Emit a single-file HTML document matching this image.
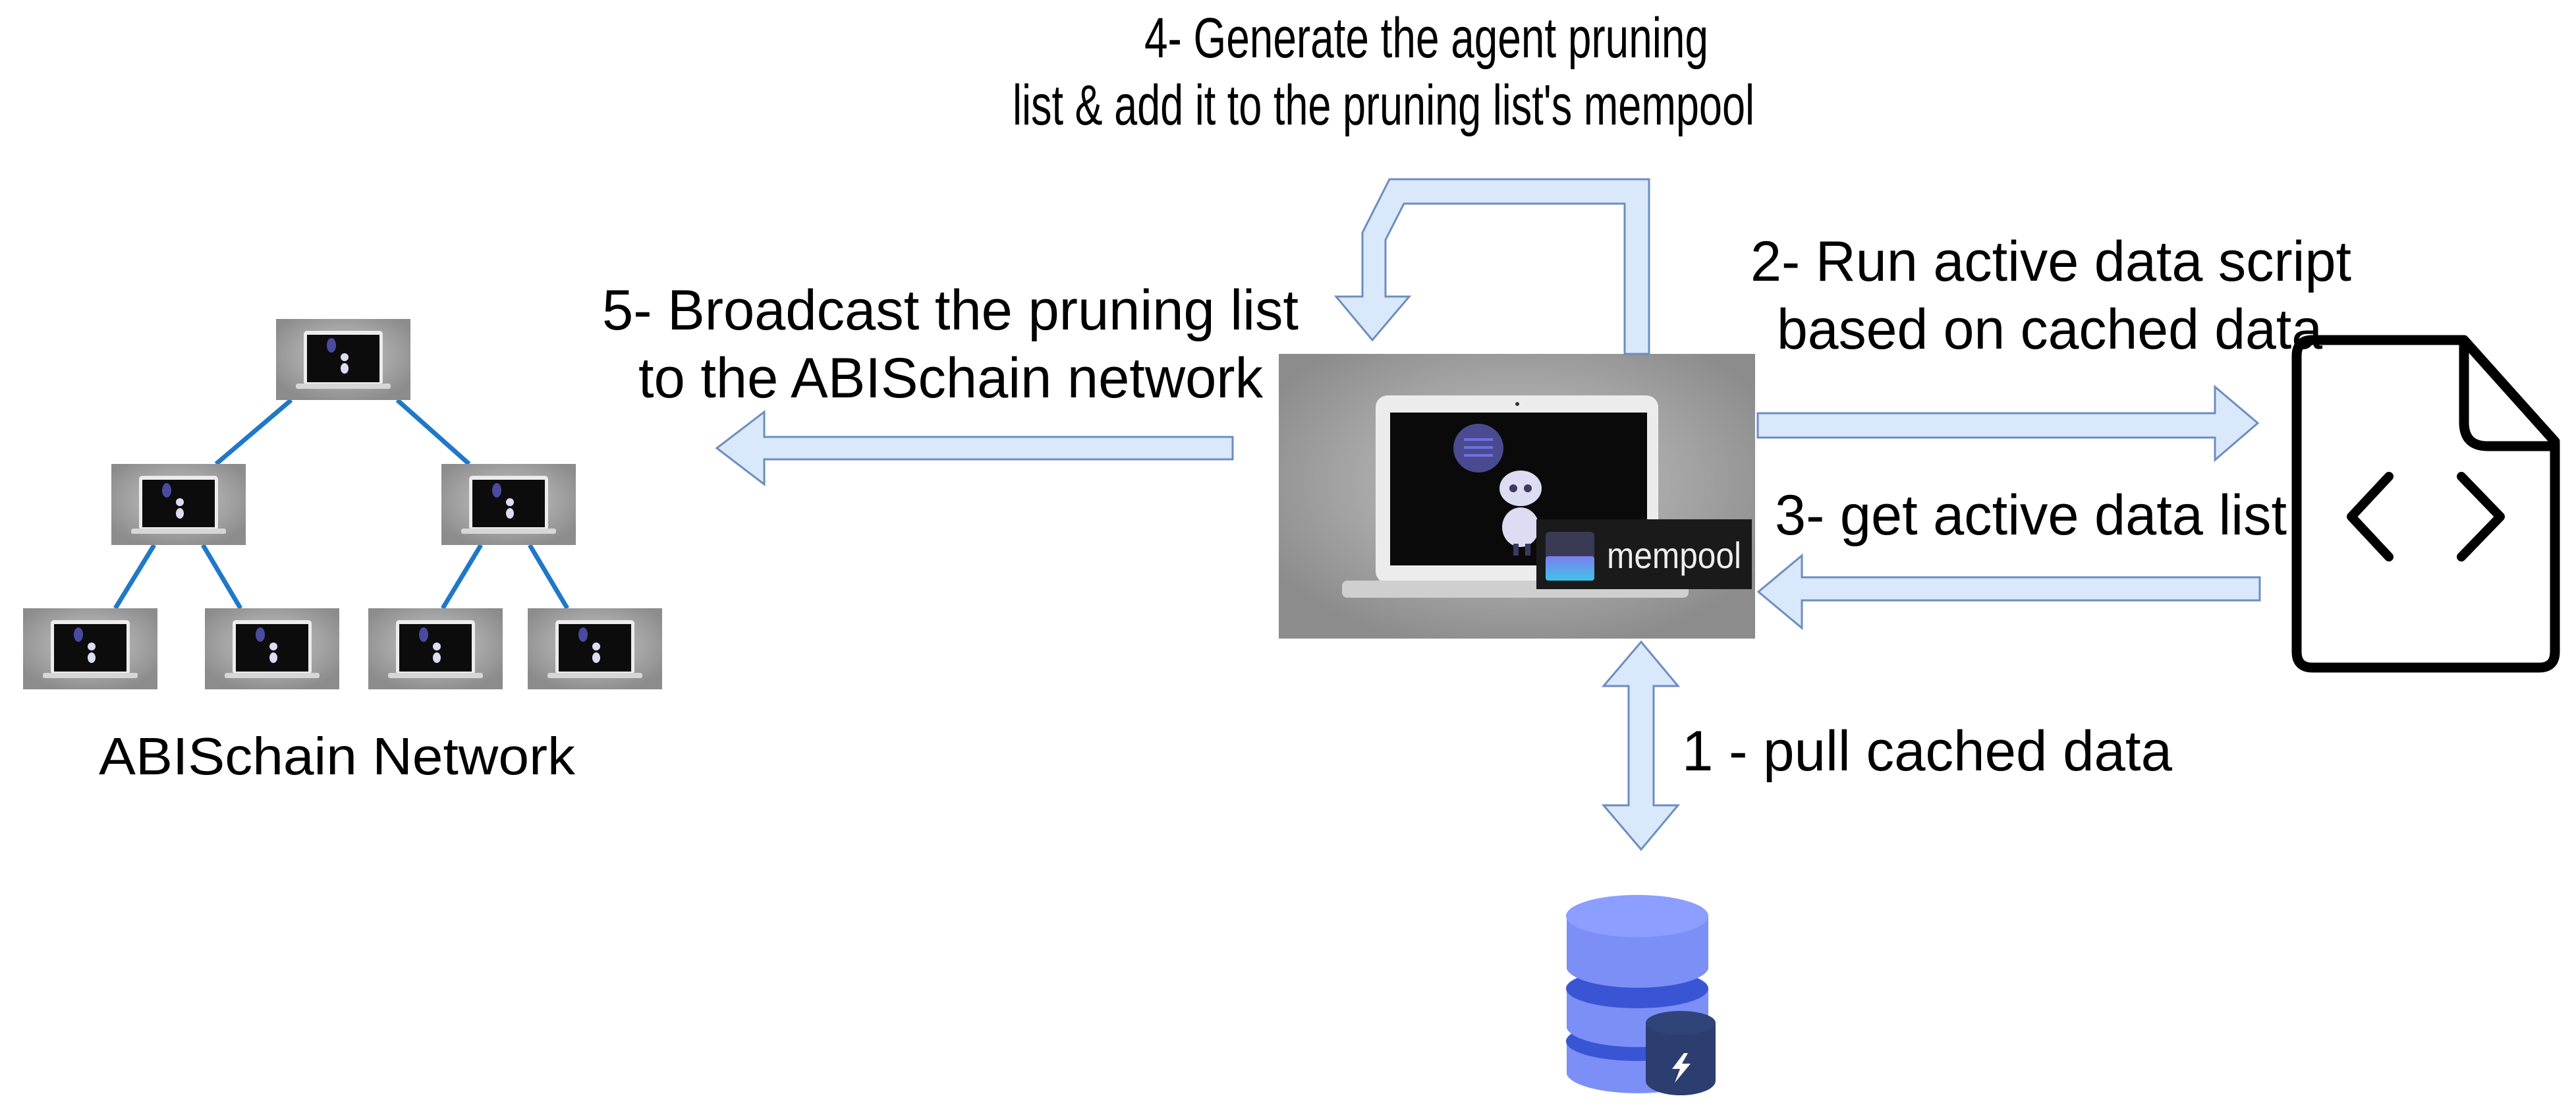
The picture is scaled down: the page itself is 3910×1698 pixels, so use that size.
<!DOCTYPE html>
<html><head><meta charset="utf-8"><style>html,body{margin:0;padding:0;background:#fff}svg{display:block}</style></head>
<body>
<svg width="3910" height="1698" viewBox="0 0 3910 1698" xmlns="http://www.w3.org/2000/svg" font-family="'Liberation Sans', Arial, sans-serif">
<defs>
<radialGradient id="bg" cx="50%" cy="45%" r="60%">
<stop offset="0" stop-color="#c4c4c4"/><stop offset="0.6" stop-color="#a4a4a4"/><stop offset="1" stop-color="#8c8c8c"/>
</radialGradient>
<linearGradient id="mp" x1="0" y1="0" x2="0" y2="1">
<stop offset="0" stop-color="#7d7df0"/><stop offset="1" stop-color="#3fc3e8"/>
</linearGradient>
<g id="lap">
<rect x="0" y="0" width="204" height="123" fill="url(#bg)"/>
<rect x="42" y="18" width="120" height="82" rx="5" fill="#ececec"/>
<rect x="47" y="24" width="110" height="72" fill="#0c0c0c"/>
<rect x="30" y="98" width="144" height="8" rx="3" fill="#d6d6d6"/>
<ellipse cx="84" cy="40" rx="7" ry="11" fill="#4a4aa0"/>
<circle cx="104" cy="58" r="6" fill="#dcdcf2"/>
<ellipse cx="104" cy="75" rx="6" ry="8" fill="#dcdcf2"/>
</g>
</defs>

<g stroke="#1f78c8" stroke-width="7">
<line x1="442" y1="607" x2="328" y2="704"/>
<line x1="603" y1="607" x2="712" y2="704"/>
<line x1="234" y1="827" x2="175" y2="923"/>
<line x1="308" y1="827" x2="365" y2="923"/>
<line x1="730" y1="827" x2="672" y2="923"/>
<line x1="804" y1="827" x2="861" y2="923"/>
</g>
<use href="#lap" x="419" y="484"/>
<use href="#lap" x="169" y="704"/>
<use href="#lap" x="670" y="704"/>
<use href="#lap" x="35" y="923"/>
<use href="#lap" x="311" y="923"/>
<use href="#lap" x="559" y="923"/>
<use href="#lap" x="801" y="923"/>
<text x="150" y="1175" font-size="80" textLength="723" lengthAdjust="spacingAndGlyphs" fill="#000">ABISchain Network</text>

<rect x="1941" y="537" width="723" height="432" fill="url(#bg)"/>
<rect x="2088" y="600" width="429" height="285" rx="18" fill="#ececec"/>
<rect x="2110" y="626" width="390" height="232" fill="#0a0a0a"/>
<circle cx="2303" cy="613" r="3" fill="#333"/>
<rect x="2037" y="881" width="526" height="26" rx="8" fill="#cfcfcf"/>
<ellipse cx="2244" cy="680" rx="38" ry="37" fill="#4a4a90"/>
<g stroke="#7070e0" stroke-width="4"><line x1="2222" y1="667" x2="2266" y2="667"/><line x1="2222" y1="679" x2="2266" y2="679"/><line x1="2222" y1="691" x2="2266" y2="691"/></g>
<ellipse cx="2308" cy="741" rx="32" ry="27" fill="#dcdcf2"/>
<circle cx="2297" cy="741" r="6" fill="#3a3a60"/><circle cx="2319" cy="741" r="6" fill="#3a3a60"/>
<ellipse cx="2308" cy="800" rx="28" ry="30" fill="#dcdcf2"/>
<rect x="2297" y="825" width="8" height="18" fill="#3a3a60"/><rect x="2315" y="825" width="8" height="18" fill="#3a3a60"/>
<rect x="2332" y="788" width="327" height="106" fill="#1a1a1a"/>
<rect x="2346" y="807" width="74" height="74" rx="6" fill="#3a3a55"/>
<rect x="2346" y="844" width="74" height="37" rx="4" fill="url(#mp)"/>
<text x="2439" y="862" font-size="56" textLength="204" lengthAdjust="spacingAndGlyphs" fill="#eeeeee">mempool</text>

<g fill="#dae8fc" stroke="#6c8ebf" stroke-width="3" stroke-linejoin="miter">
<path d="M2503,537 L2503,272 L2109,272 L2068,353 L2068,450 L2028,450 L2083,516 L2139,450 L2103,450 L2103,364 L2131,309 L2466,309 L2466,537 Z"/>
<path d="M2668,627 L3362,627 L3362,587 L3427,642 L3362,698 L3362,664 L2668,664 Z"/>
<path d="M3430,876 L2735,876 L2735,843 L2669,898 L2735,953 L2735,911 L3430,911 Z"/>
<path d="M1871,663 L1160,663 L1160,625 L1088,680 L1160,735 L1160,697 L1871,697 Z"/>
<path d="M2491,974 L2547,1041 L2510,1041 L2510,1222 L2547,1222 L2491,1289 L2434,1222 L2472,1222 L2472,1041 L2434,1041 Z"/>
</g>

<path d="M3740,516 L3510,516 Q3486,516 3486,540 L3486,989 Q3486,1013 3510,1013 L3854,1013 Q3878,1013 3878,989 L3878,670 Z M3740,516 L3740,641 Q3740,677 3776,677 L3878,677" fill="#fff" stroke="#000" stroke-width="15" stroke-linejoin="round"/>
<polyline points="3626,723 3569,784 3626,845" fill="none" stroke="#000" stroke-width="14" stroke-linecap="round" stroke-linejoin="round"/>
<polyline points="3736,723 3795,784 3736,845" fill="none" stroke="#000" stroke-width="14" stroke-linecap="round" stroke-linejoin="round"/>

<g>
<path d="M2378,1580 L2378,1630 A108,32 0 0 0 2593,1630 L2593,1580 Z" fill="#7b8ff7"/>
<ellipse cx="2485" cy="1580" rx="108" ry="30" fill="#3a55d4"/>
<path d="M2378,1500 L2378,1560 A108,32 0 0 0 2593,1560 L2593,1500 Z" fill="#7b8ff7"/>
<ellipse cx="2485" cy="1500" rx="108" ry="30" fill="#3a55d4"/>
<path d="M2378,1390 L2378,1470 A108,32 0 0 0 2593,1470 L2593,1390 Z" fill="#7b8ff7"/>
<ellipse cx="2485" cy="1390" rx="108" ry="32" fill="#8c9eff"/>
<path d="M2498,1552 L2498,1640 A53,22 0 0 0 2604,1640 L2604,1552 Z" fill="#2c3e70"/>
<ellipse cx="2551" cy="1552" rx="53" ry="18" fill="#2f4478"/>
<path d="M2556,1598 L2538,1622 L2550,1622 L2542,1643 L2566,1614 L2553,1614 L2562,1598 Z" fill="#fff"/>
</g>

<g font-size="86" fill="#000">
<text x="1737" y="87" textLength="856" lengthAdjust="spacingAndGlyphs">4- Generate the agent pruning</text>
<text x="1537" y="189" textLength="1126" lengthAdjust="spacingAndGlyphs">list &amp; add it to the pruning list's mempool</text>
<text x="914" y="500" textLength="1057" lengthAdjust="spacingAndGlyphs">5- Broadcast the pruning list</text>
<text x="969" y="603" textLength="948" lengthAdjust="spacingAndGlyphs">to the ABISchain network</text>
<text x="2657" y="426" textLength="912" lengthAdjust="spacingAndGlyphs">2- Run active data script</text>
<text x="2697" y="529" textLength="828" lengthAdjust="spacingAndGlyphs">based on cached data</text>
<text x="2694" y="811" textLength="777" lengthAdjust="spacingAndGlyphs">3- get active data list</text>
<text x="2553" y="1169" textLength="744" lengthAdjust="spacingAndGlyphs">1 - pull cached data</text>
</g>
</svg>
</body></html>
